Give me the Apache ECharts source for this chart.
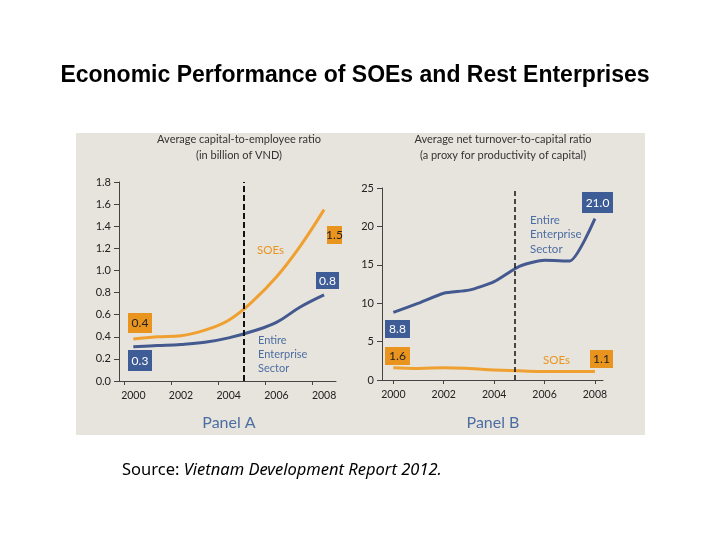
<!DOCTYPE html>
<html>
<head>
<meta charset="utf-8">
<script src="https://cdn.jsdelivr.net/npm/echarts@6/dist/echarts.min.js"></script>
<style>
html,body{margin:0;padding:0;background:#fff;}
#c{width:720px;height:540px;}
</style>
</head>
<body>
<div id="c"></div>
<script>
// ---- data ----
var years = [2000, 2001, 2002, 2003, 2004, 2005, 2006, 2007, 2008];
var yearTicks = [2000, 2002, 2004, 2006, 2008];
var capitalSOE = [0.38, 0.40, 0.41, 0.46, 0.55, 0.72, 0.94, 1.22, 1.55];
var capitalAll = [0.31, 0.32, 0.33, 0.35, 0.39, 0.45, 0.53, 0.67, 0.78];
var turnoverAll = [8.8, 10.0, 11.3, 11.7, 12.8, 14.8, 15.6, 15.5, 21.0];
var turnoverSOE = [1.6, 1.5, 1.6, 1.5, 1.3, 1.2, 1.1, 1.1, 1.1];
var policyYearA = 2004.63;
var policyYearB = 2004.83;
var boxLabelsA = ['0.4', '0.3', '1.5', '0.8'];
var boxLabelsB = ['8.8', '1.6', '21.0', '1.1'];
var seriesNames = ['SOEs', 'Entire Enterprise Sector'];
var titleText = 'Economic Performance of SOEs and Rest Enterprises';
var panelTitlesA = ['Average capital-to-employee ratio', '(in billion of VND)'];
var panelTitlesB = ['Average net turnover-to-capital ratio', '(a proxy for productivity of capital)'];
var panelNames = ['Panel A', 'Panel B'];

var ORANGE = '#f0a030';
var ORANGE_BOX = '#ea9420';
var BLUE = '#44598f';
var BLUE_BOX = '#3e5c96';
var BG = '#e6e4dc';
var FONT = 'Lato';

function pairs(xs, ys) { return xs.map(function (x, i) { return [x, ys[i]]; }); }

var chart = echarts.init(document.getElementById('c'));

function box(x, y, w, h, fill, txt, color) {
  return [
    { type: 'rect', shape: { x: x, y: y, width: w, height: h }, style: { fill: fill }, z: 10 },
    { type: 'text', x: x + w / 2, y: y + h / 2 + 0.5, style: { text: txt, fill: color, font: '12px ' + FONT, align: 'center', verticalAlign: 'middle' }, z: 11 }
  ];
}

function multiText(x, y, lines, color, size, lh) {
  return lines.map(function (t, i) {
    return { type: 'text', x: x, y: y + i * lh, style: { text: t, fill: color, font: size + 'px ' + FONT, align: 'left', verticalAlign: 'middle' }, z: 11 };
  });
}

var graphics = [
  { type: 'rect', shape: { x: 76, y: 133, width: 569, height: 302 }, style: { fill: BG }, z: -10, silent: true },
  { type: 'text', x: 355, y: 76, style: { text: titleText, font: 'bold 23px "Liberation Sans"', fill: '#000', align: 'center', verticalAlign: 'middle' } },
  { type: 'text', x: 239, y: 139, style: { text: panelTitlesA[0], font: '11px ' + FONT, fill: '#333', align: 'center', verticalAlign: 'middle' } },
  { type: 'text', x: 239, y: 155, style: { text: panelTitlesA[1], font: '11px ' + FONT, fill: '#333', align: 'center', verticalAlign: 'middle' } },
  { type: 'text', x: 503, y: 139, style: { text: panelTitlesB[0], font: '11px ' + FONT, fill: '#333', align: 'center', verticalAlign: 'middle' } },
  { type: 'text', x: 503, y: 155, style: { text: panelTitlesB[1], font: '11px ' + FONT, fill: '#333', align: 'center', verticalAlign: 'middle' } },
  { type: 'text', x: 229, y: 423, style: { text: panelNames[0], font: '16px ' + FONT, fill: '#4d6ea3', align: 'center', verticalAlign: 'middle' } },
  { type: 'text', x: 493, y: 423, style: { text: panelNames[1], font: '16px ' + FONT, fill: '#4d6ea3', align: 'center', verticalAlign: 'middle' } },
  { type: 'text', x: 122, y: 470, style: {
      text: '{n|Source: }{i|Vietnam Development Report 2012.}',
      verticalAlign: 'middle',
      rich: {
        n: { font: '16.5px "Noto Sans"', fill: '#000' },
        i: { font: 'italic 16.5px "Noto Sans"', fill: '#000' }
      }
  } },
  { type: 'text', x: 257, y: 250, style: { text: seriesNames[0], font: '11.5px ' + FONT, fill: ORANGE_BOX, align: 'left', verticalAlign: 'middle' } },
  { type: 'text', x: 543, y: 360, style: { text: seriesNames[0], font: '11.5px ' + FONT, fill: ORANGE_BOX, align: 'left', verticalAlign: 'middle' } }
];
graphics = graphics
  .concat(multiText(258, 340, ['Entire', 'Enterprise', 'Sector'], '#4d6ea3', 11, 14))
  .concat(multiText(530, 220, ['Entire', 'Enterprise', 'Sector'], '#4d6ea3', 11.5, 14.5))
  .concat(box(128, 313, 24, 20, ORANGE_BOX, boxLabelsA[0], '#222'))
  .concat(box(128, 350, 24, 21, BLUE_BOX, boxLabelsA[1], '#fff'))
  .concat(box(327, 226, 15, 18, ORANGE_BOX, boxLabelsA[2], '#222'))
  .concat(box(316, 272, 23, 17, BLUE_BOX, boxLabelsA[3], '#fff'))
  .concat(box(385, 320, 25, 18, BLUE_BOX, boxLabelsB[0], '#fff'))
  .concat(box(385, 347, 25, 18, ORANGE_BOX, boxLabelsB[1], '#222'))
  .concat(box(582, 192, 31, 21, BLUE_BOX, boxLabelsB[2], '#fff'))
  .concat(box(590, 350, 23, 18, ORANGE_BOX, boxLabelsB[3], '#222'));

var axisCommonX = {
  type: 'value',
  axisLine: { show: true, lineStyle: { color: '#444', width: 1 } },
  splitLine: { show: false },
  axisLabel: { color: '#222', fontFamily: FONT, fontSize: 10.5, margin: 9, customValues: yearTicks, formatter: function (v) { return String(v); } }
};

var option = {
  animation: false,
  backgroundColor: '#fff',
  graphic: graphics,
  grid: [
    { left: 119, top: 182, width: 217, height: 199 },
    { left: 382, top: 188, width: 221, height: 192 }
  ],
  xAxis: [
    Object.assign({}, axisCommonX, { gridIndex: 0, min: 1999.4, max: 2008.5,
      axisTick: { show: true, length: 4, lineStyle: { color: '#444' }, customValues: [1999.6, 2001.6, 2003.55, 2005.55, 2007.5] } }),
    Object.assign({}, axisCommonX, { gridIndex: 1, min: 1999.55, max: 2008.32,
      axisTick: { show: true, length: 4, lineStyle: { color: '#444' }, customValues: yearTicks } })
  ],
  yAxis: [
    { type: 'value', gridIndex: 0, min: 0, max: 1.8, interval: 0.2,
      axisLine: { show: true, lineStyle: { color: '#444' } },
      axisTick: { show: true, length: 5, lineStyle: { color: '#444' } },
      splitLine: { show: false },
      axisLabel: { color: '#222', fontFamily: FONT, fontSize: 11, margin: 8, formatter: function (v) { return v.toFixed(1); } } },
    { type: 'value', gridIndex: 1, min: 0, max: 25, interval: 5,
      axisLine: { show: true, lineStyle: { color: '#444' } },
      axisTick: { show: true, length: 5, lineStyle: { color: '#444' } },
      splitLine: { show: false },
      axisLabel: { color: '#222', fontFamily: FONT, fontSize: 11, margin: 8 } }
  ],
  series: [
    { name: seriesNames[0], type: 'line', xAxisIndex: 0, yAxisIndex: 0, data: pairs(years, capitalSOE),
      smooth: 0.4, showSymbol: false, lineStyle: { color: ORANGE, width: 3 },
      markLine: { silent: true, symbol: 'none', label: { show: false },
        lineStyle: { color: '#111', type: [6, 3], width: 2 }, data: [{ xAxis: policyYearA }] } },
    { name: seriesNames[1], type: 'line', xAxisIndex: 0, yAxisIndex: 0, data: pairs(years, capitalAll),
      smooth: 0.4, showSymbol: false, lineStyle: { color: BLUE, width: 3 } },
    { name: seriesNames[1], type: 'line', xAxisIndex: 1, yAxisIndex: 1, data: pairs(years, turnoverAll),
      smooth: 0.2, showSymbol: false, lineStyle: { color: BLUE, width: 3 },
      markLine: { silent: true, symbol: 'none', label: { show: false },
        lineStyle: { color: '#111', type: [5, 3], width: 1.5 }, data: [{ xAxis: policyYearB }] } },
    { name: seriesNames[0], type: 'line', xAxisIndex: 1, yAxisIndex: 1, data: pairs(years, turnoverSOE),
      smooth: 0.4, showSymbol: false, lineStyle: { color: ORANGE, width: 3 } }
  ]
};
chart.setOption(option);
</script>
</body>
</html>
